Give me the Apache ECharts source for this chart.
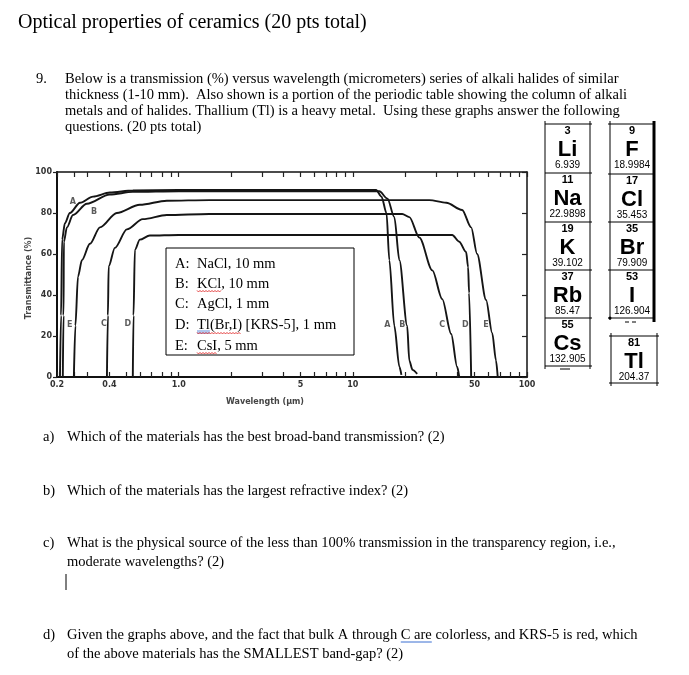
<!DOCTYPE html>
<html><head><meta charset="utf-8">
<script src="https://cdn.jsdelivr.net/npm/echarts@6/dist/echarts.min.js"></script>
<style>html,body{margin:0;padding:0;background:#fff}#c{width:689px;height:675px}</style>
</head><body><div id="c"></div>
<script>
// ---------------- data ----------------
const titleText = 'Optical properties of ceramics (20 pts total)';
const introNumber = '9.';
const introLines = [
  'Below is a transmission (%) versus wavelength (micrometers) series of alkali halides of similar',
  'thickness (1-10 mm).  Also shown is a portion of the periodic table showing the column of alkali',
  'metals and of halides. Thallium (Tl) is a heavy metal.  Using these graphs answer the following',
  'questions. (20 pts total)'
];
const questionLabels = ['a)', 'b)', 'c)', 'd)'];
const questionLines = [
  ['Which of the materials has the best broad-band transmission? (2)'],
  ['Which of the materials has the largest refractive index? (2)'],
  ['What is the physical source of the less than 100% transmission in the transparency region, i.e.,', 'moderate wavelengths? (2)'],
  ['Given the graphs above, and the fact that bulk A through C are colorless, and KRS-5 is red, which', 'of the above materials has the SMALLEST band-gap? (2)']
];
const legendLetters = ['A:', 'B:', 'C:', 'D:', 'E:'];
const legendItems = ['NaCl, 10 mm', 'KCl, 10 mm', 'AgCl, 1 mm', 'Tl(Br,I) [KRS-5], 1 mm', 'CsI, 5 mm'];

const yAxisTitle = 'Transmittance (%)';
const xAxisTitle = 'Wavelength (µm)';
const xTickValues = [0.2, 0.4, 1, 5, 10, 50, 100];
const xTickLabels = ['0.2', '0.4', '1.0', '5', '10', '50', '100'];
const xMinorTicks = [0.2, 0.25, 0.3, 0.4, 0.5, 0.6, 0.7, 0.8, 0.9, 1, 2, 3, 4, 5, 6, 7, 8, 9, 10, 20, 30, 40, 50, 60, 70, 80, 90, 100];

// transmission curves: [wavelength (µm), transmittance (%)]
const curveA = [[0.208,0],[0.211,30],[0.214,67],[0.222,75],[0.237,80],[0.271,85],[0.322,88],[0.402,90],[0.545,91],[1.0,91.2],[13.6,91.2],[14.6,88],[15.6,80],[16.2,57],[17.3,25],[18.5,5],[19.0,1]];
const curveB = [[0.216,0],[0.218,30],[0.219,66],[0.228,73],[0.247,79],[0.297,84.5],[0.402,89],[0.545,90.3],[1.0,90.6],[14.2,90.6],[15.8,87],[17.3,78],[18.5,57],[20.5,25],[21.1,8],[22.0,3.5],[23.4,1.5]];
const curveC = [[0.387,0],[0.392,30],[0.396,54],[0.43,63],[0.504,72],[0.622,77],[0.854,79],[1.5,79.5],[19.2,79.5],[21.1,78],[24.1,68],[28.6,52],[32.6,38],[36.7,21],[39.7,5],[40.8,0]];
const curveD = [[0.545,0],[0.55,30],[0.56,62],[0.598,67],[0.682,69],[1.0,69.3],[37.2,69.3],[40.8,66],[44.7,61],[45.9,53.6],[46.5,41],[47.8,0]];
const curveE = [[0.25,0],[0.255,25],[0.264,49],[0.278,57],[0.309,65],[0.353,73],[0.441,80],[0.598,84],[0.854,86],[1.5,86.3],[27.5,86.3],[34.4,85],[42.4,81.5],[47.8,73],[51.7,60],[58.2,37.6],[63.1,21.5],[66.4,8],[67.9,0]];
const curveNames = ['A', 'B', 'C', 'D', 'E'];
const curveLabelPoints = [
  ['A',0.247,85.4],['B',0.326,80.5],['E',0.237,25.4],['C',0.372,25.9],['D',0.511,25.9],
  ['A',15.8,25.4],['B',19.2,25.4],['C',32.6,25.4],['D',44.2,25.4],['E',58.2,25.4]
];

// periodic table portion
const alkaliNumbers = ['3', '11', '19', '37', '55'];
const alkaliSymbols = ['Li', 'Na', 'K', 'Rb', 'Cs'];
const alkaliMasses = ['6.939', '22.9898', '39.102', '85.47', '132.905'];
const halogenNumbers = ['9', '17', '35', '53'];
const halogenSymbols = ['F', 'Cl', 'Br', 'I'];
const halogenMasses = ['18.9984', '35.453', '79.909', '126.904'];
const thalliumCell = ['81', 'Tl', '204.37'];

// ---------------- layout helpers ----------------
const mctx = document.createElement('canvas').getContext('2d');
function textWidth(t, font) { mctx.font = font; return mctx.measureText(t).width; }
const SERIF = '"Liberation Serif", "Times New Roman", serif';
const SANS = '"Liberation Sans", Arial, sans-serif';
const bodySize = 100 * 378 / textWidth(questionLines[0][0], '100px ' + SERIF);
const bodyFont = bodySize.toFixed(2) + 'px ' + SERIF;

const G = [];
function txt(t, x, y, font, opts) {
  opts = opts || {};
  G.push({ type: 'text', x: x, y: y, rotation: opts.rotation || 0, z: 100,
    style: { text: t, font: font, fill: opts.fill || '#000', align: opts.align || 'left', verticalAlign: 'middle' } });
}
function ln(x1, y1, x2, y2, w, c) {
  G.push({ type: 'line', z: 100, shape: { x1: x1, y1: y1, x2: x2, y2: y2 }, style: { stroke: c || '#000', lineWidth: w || 1 } });
}
function squiggle(x0, x1, y, color) {
  const pts = []; let i = 0;
  for (let x = x0; x <= x1; x += 1.5, i++) pts.push([x, y + (i % 2 ? 1 : -0.6)]);
  G.push({ type: 'polyline', z: 101, shape: { points: pts }, style: { stroke: color, lineWidth: 0.8, fill: null } });
}

// title and intro
txt(titleText, 18, 23, '20px ' + SERIF);
const introY = [79, 95, 111, 127];
txt(introNumber, 36, introY[0], bodyFont);
introLines.forEach((l, i) => txt(l, 65, introY[i], bodyFont));

// questions
const qY = [[437], [491], [543, 562], [635, 654]];
questionLabels.forEach((lab, i) => {
  txt(lab, 43, qY[i][0], bodyFont);
  questionLines[i].forEach((l, j) => txt(l, 67, qY[i][j], bodyFont));
});
ln(66, 574, 66, 590, 1, '#000'); // text cursor
{ // grammar underline under "C are"
  const pre = 'Given the graphs above, and the fact that bulk A through ';
  const x0 = 67 + textWidth(pre, bodyFont);
  const x1 = x0 + textWidth('C are', bodyFont);
  ln(x0, qY[3][0] + 7, x1, qY[3][0] + 7, 1, '#3b6fd1');
}

// legend box
G.push({ type: 'rect', z: 99, shape: { x: 166, y: 248, width: 188, height: 107 }, style: { fill: '#fff', stroke: '#000', lineWidth: 1 } });
const legY = [264, 284, 304, 325, 346];
legendLetters.forEach((l, i) => { txt(l, 175, legY[i], bodyFont); txt(legendItems[i], 197, legY[i], bodyFont); });
squiggle(197, 197 + textWidth('KCl', bodyFont), legY[1] + 7, '#e02020');
squiggle(197, 197 + textWidth('Tl(Br,I)', bodyFont), legY[3] + 8, '#e02020');
ln(197, legY[3] + 6, 197 + textWidth('Tl', bodyFont), legY[3] + 6, 0.8, '#3b6fd1');
ln(197, legY[3] + 8, 197 + textWidth('Tl', bodyFont), legY[3] + 8, 0.8, '#3b6fd1');
squiggle(197, 197 + textWidth('CsI', bodyFont), legY[4] + 7, '#e02020');

// axis titles
const axFont = 'bold 8px "DejaVu Sans", sans-serif';
txt(yAxisTitle, 29, 278, axFont, { rotation: Math.PI / 2, align: 'center', fill: '#444' });
txt(xAxisTitle, 265, 402, axFont, { align: 'center', fill: '#444' });

// periodic table
function cell(cx, top, num, sym, mass) {
  txt(num, cx, top + 7, 'bold 11px ' + SANS, { align: 'center' });
  txt(sym, cx, top + 26, 'bold 22px ' + SANS, { align: 'center' });
  txt(mass, cx, top + 41, '10px ' + SANS, { align: 'center' });
}
const leftTops = [124, 173, 222, 270, 318];
ln(545, 121, 545, 369, 1); ln(590, 121, 590, 369, 1);
leftTops.concat([366]).forEach(t => ln(545, t, 592, t, 1));
alkaliSymbols.forEach((s, i) => cell(567.5, leftTops[i], alkaliNumbers[i], s, alkaliMasses[i]));
ln(560, 369, 570, 369, 1);
const rightTops = [124, 174, 222, 270];
ln(610, 121, 610, 320, 1); ln(654, 121, 654, 322, 3);
rightTops.concat([318]).forEach(t => ln(608, t, 654, t, 1));
halogenSymbols.forEach((s, i) => cell(632, rightTops[i], halogenNumbers[i], s, halogenMasses[i]));
G.push({ type: 'circle', z: 100, shape: { cx: 610, cy: 318, r: 1.5 }, style: { fill: '#000' } });
ln(625, 322, 629, 322, 1); ln(632, 322, 636, 322, 1);
ln(611, 333, 611, 386, 1); ln(657, 333, 657, 386, 1);
ln(609, 336, 659, 336, 1); ln(609, 383, 659, 383, 1);
cell(634, 336, thalliumCell[0], thalliumCell[1], thalliumCell[2]);

// ---------------- chart ----------------
const LMIN = Math.log10(0.2), LMAX = 2;
function tickLabel(v) {
  for (let i = 0; i < xTickValues.length; i++) if (Math.abs(Math.log10(xTickValues[i]) - v) < 1e-6) return xTickLabels[i];
  return '';
}
const curves = [curveA, curveB, curveC, curveD, curveE];
const series = curves.map((c, i) => ({
  type: 'line', name: curveNames[i], xAxisIndex: 2, yAxisIndex: 0, data: c,
  showSymbol: false, smooth: 0.3, smoothMonotone: 'x',
  lineStyle: { color: '#151515', width: 1.9 }, z: 5
}));
series.push({
  type: 'scatter', xAxisIndex: 2, yAxisIndex: 0, symbolSize: 1,
  itemStyle: { color: 'rgba(0,0,0,0)' },
  data: curveLabelPoints.map(p => ({ name: p[0], value: [p[1], p[2]] })),
  label: { show: true, position: 'inside', formatter: p => p.name, fontSize: 8, fontWeight: 'bold', color: '#333', fontFamily: 'DejaVu Sans' }
});

const chart = echarts.init(document.getElementById('c'), null, { renderer: 'canvas' });
chart.setOption({
  animation: false,
  backgroundColor: '#fff',
  grid: { left: 57, right: 689 - 527, top: 172, bottom: 675 - 377 },
  xAxis: [
    { type: 'value', position: 'bottom', min: LMIN, max: LMAX, splitLine: { show: false },
      axisLine: { onZero: false, lineStyle: { color: '#111', width: 2 } },
      axisTick: { show: true, inside: true, length: 5, customValues: xMinorTicks.map(Math.log10), lineStyle: { color: '#222', width: 1.2 } },
      axisLabel: { customValues: xTickValues.map(Math.log10), formatter: tickLabel, fontSize: 8, fontWeight: 'bold', color: '#333', margin: 4, fontFamily: 'DejaVu Sans' } },
    { type: 'value', position: 'top', min: LMIN, max: LMAX, splitLine: { show: false },
      axisLine: { onZero: false, lineStyle: { color: '#111', width: 1.5 } },
      axisTick: { show: true, inside: true, length: 5, customValues: xMinorTicks.map(Math.log10), lineStyle: { color: '#222', width: 1.2 } },
      axisLabel: { show: false } },
    { type: 'log', logBase: 10, min: 0.2, max: 100, show: false }
  ],
  yAxis: [
    { type: 'value', position: 'left', min: 0, max: 100, interval: 20, splitLine: { show: false },
      axisLine: { show: true, onZero: false, lineStyle: { color: '#111', width: 2 } },
      axisTick: { show: true, inside: false, length: 4, lineStyle: { color: '#222', width: 1.2 } },
      axisLabel: { fontSize: 8, fontWeight: 'bold', color: '#333', margin: 5, fontFamily: 'DejaVu Sans' } },
    { type: 'value', position: 'right', min: 0, max: 100, interval: 20, splitLine: { show: false },
      axisLine: { show: true, onZero: false, lineStyle: { color: '#111', width: 1.5 } },
      axisTick: { show: true, inside: true, length: 5, lineStyle: { color: '#222', width: 1.2 } },
      axisLabel: { show: false } }
  ],
  series: series,
  graphic: G
});
</script></body></html>
